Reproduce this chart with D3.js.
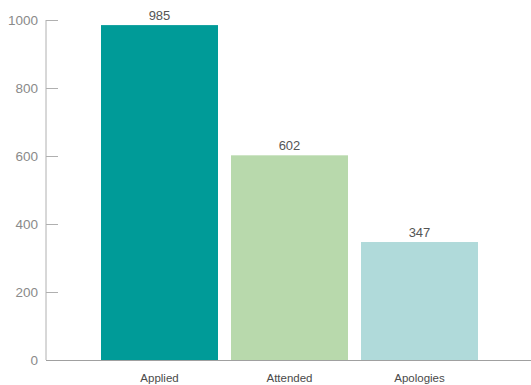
<!DOCTYPE html>
<html lang="en">
<head>
<meta charset="UTF-8">
<title>Attendance</title>
<script src="https://d3js.org/d3.v7.min.js"></script>
<style>
    body { margin: 0; background: #fff; }
    svg text { font-family: "Liberation Sans", "DejaVu Sans", sans-serif; }
    .tick-label { fill: #8a8a8a; font-size: 13.5px; }
    .value-label { fill: #555; font-size: 13px; }
    .cat-label { fill: #4a4a4a; font-size: 11.5px; }
</style>
</head>
<body>
<svg id="chart" width="531" height="385"></svg>
<script>
    let categories = ["Applied", "Attended", "Apologies"];
    let values = [985, 602, 347];
    let barColors = ["#009b98", "#b8d9ac", "#b0dada"];
    let yTicks = [0, 200, 400, 600, 800, 1000];

    let svg = d3.select('#chart');

    let x = d3.scaleBand()
        .domain(categories)
        .range([94.5, 484.5])
        .paddingInner(0.1)
        .paddingOuter(0.05);
    let y = d3.scaleLinear()
        .domain([0, 1000])
        .range([360, 20]);

    // y axis line + ticks
    svg.append('line')
        .attr('x1', 46).attr('x2', 46)
        .attr('y1', y(1000)).attr('y2', y(0))
        .attr('stroke', '#b0b0b0').attr('stroke-width', 1);
    svg.selectAll('line.tick')
        .data(yTicks)
        .enter()
        .append('line')
        .attr('class', 'tick')
        .attr('x1', 46).attr('x2', 58)
        .attr('y1', d => y(d) + 0.5).attr('y2', d => y(d) + 0.5)
        .attr('stroke', '#b0b0b0');
    svg.selectAll('text.tick-label')
        .data(yTicks)
        .enter()
        .append('text')
        .attr('class', 'tick-label')
        .attr('x', 38)
        .attr('y', d => y(d))
        .attr('dy', '0.35em')
        .attr('text-anchor', 'end')
        .text(d => d);

    // bars
    svg.selectAll('rect.bar')
        .data(values)
        .enter()
        .append('rect')
        .attr('class', 'bar')
        .attr('x', (d, i) => x(categories[i]))
        .attr('width', x.bandwidth())
        .attr('y', d => y(d))
        .attr('height', d => y(0) - y(d))
        .attr('fill', (d, i) => barColors[i]);

    // baseline
    svg.append('line')
        .attr('x1', 46).attr('x2', 531)
        .attr('y1', y(0) + 0.5).attr('y2', y(0) + 0.5)
        .attr('stroke', '#a0a0a0');

    svg.selectAll('text.value-label')
        .data(values)
        .enter()
        .append('text')
        .attr('class', 'value-label')
        .attr('x', (d, i) => x(categories[i]) + x.bandwidth() / 2)
        .attr('y', d => y(d) - 5)
        .attr('text-anchor', 'middle')
        .text(d => d);

    svg.selectAll('text.cat-label')
        .data(categories)
        .enter()
        .append('text')
        .attr('class', 'cat-label')
        .attr('x', d => x(d) + x.bandwidth() / 2)
        .attr('y', 382)
        .attr('text-anchor', 'middle')
        .text(d => d);
</script>
</body>
</html>
